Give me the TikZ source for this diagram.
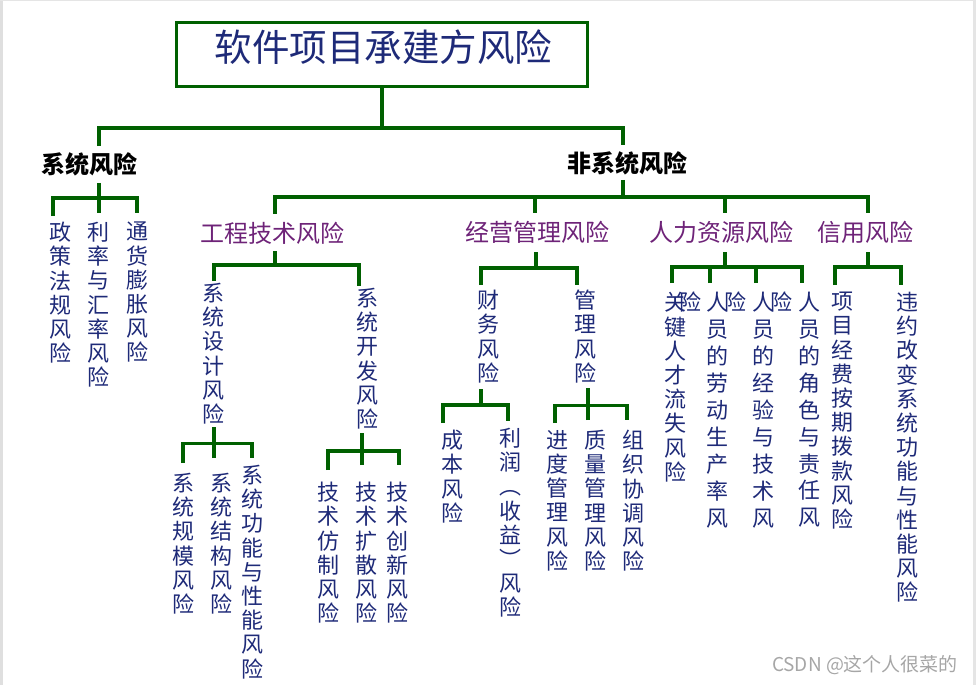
\documentclass[tikz,border=0pt]{standalone}
\usepackage{fontspec}
\newfontfamily\cjk{Noto Sans CJK SC}
\definecolor{navy}{RGB}{30,42,120}
\definecolor{purp}{RGB}{110,35,120}
\definecolor{lgreen}{RGB}{0,96,0}
\begin{document}
\begin{tikzpicture}[x=1pt,y=-1pt,
  conn/.style={draw=lgreen,line width=3.2pt},
  leaf/.style={inner sep=0pt,anchor=north,text=navy,align=center,font=\cjk\fontsize{22}{24.2}\selectfont},
  leafw/.style={leaf,font=\cjk\fontsize{22}{26.9}\selectfont},
  cat/.style={inner sep=0pt,text=purp,font=\cjk\fontsize{24}{28}\selectfont},
  top/.style={inner sep=0pt,text=black,font=\cjk\bfseries\fontsize{24}{28}\selectfont}]
\useasboundingbox (0,0) rectangle (976,685);
\fill[gray!25] (0,0) rectangle (3,685);
\fill[gray!20] (0,0) rectangle (976,1);
\fill[gray!20] (973,0) rectangle (976,685);

% root
\node[draw=lgreen,line width=3.6pt,minimum width=411pt,minimum height=64pt,inner sep=0pt] (root) at (382,54.5) {};
\node[inner sep=0pt,text=navy,font=\cjk\fontsize{37.5}{40}\selectfont] (title) at (383.5,47.5) {软件项目承建方风险};

% level 1
\node[top] (sys) at (89.5,164) {系统风险};
\node[top] (nonsys) at (627,163) {非系统风险};

% level 2
\node[cat] (eng) at (272.5,233) {工程技术风险};
\node[cat] (biz) at (537.5,232) {经营管理风险};
\node[cat] (hr) at (721.5,232) {人力资源风险};
\node[cat] (credit) at (865.5,232) {信用风险};

% leaves
\node[leaf] (l1) at (60,222) {政\\策\\法\\规\\风\\险};
\node[leaf] (l2) at (98,222) {利\\率\\与\\汇\\率\\风\\险};
\node[leaf] (l3) at (137,222) {通\\货\\膨\\胀\\风\\险};
\node[leaf] (l4) at (213,283) {系\\统\\设\\计\\风\\险};
\node[leaf] (l5) at (367,288) {系\\统\\开\\发\\风\\险};
\node[leaf] (l6) at (183,473) {系\\统\\规\\模\\风\\险};
\node[leaf] (l7) at (221,473) {系\\统\\结\\构\\风\\险};
\node[leaf] (l8) at (252,465) {系\\统\\功\\能\\与\\性\\能\\风\\险};
\node[leaf] (l9) at (328,482) {技\\术\\仿\\制\\风\\险};
\node[leaf] (l10) at (366,482) {技\\术\\扩\\散\\风\\险};
\node[leaf] (l11) at (397,482) {技\\术\\创\\新\\风\\险};
\node[leaf] (l12) at (488,290) {财\\务\\风\\险};
\node[leaf] (l13) at (585,290) {管\\理\\风\\险};
\node[leaf] (l14) at (452,430) {成\\本\\风\\险};
\node[leaf] (l15) at (510,428) {利\\润\\︵\\收\\益\\︶\\风\\险};
\node[leaf] (l16) at (557,430) {进\\度\\管\\理\\风\\险};
\node[leaf] (l17) at (595,430) {质\\量\\管\\理\\风\\险};
\node[leaf] (l18) at (633,430) {组\\织\\协\\调\\风\\险};
\node[leaf] (l19) at (675,292) {关\rlap{\kern-7pt 险}\\键\\人\\才\\流\\失\\风\\险};
\node[leafw] (l20) at (717,292) {人\rlap{\kern-4pt 险}\\员\\的\\劳\\动\\生\\产\\率\\风};
\node[leafw] (l21) at (763,292) {人\rlap{\kern-4pt 险}\\员\\的\\经\\验\\与\\技\\术\\风};
\node[leafw] (l22) at (809,292) {人\\员\\的\\角\\色\\与\\责\\任\\风};
\node[leaf] (l23) at (842,292) {项\\目\\经\\费\\按\\期\\拨\\款\\风\\险};
\node[leaf] (l24) at (907,292) {违\\约\\改\\变\\系\\统\\功\\能\\与\\性\\能\\风\\险};

% junctions
\coordinate (tj) at (382,128);
\coordinate (sj) at (99,198);
\coordinate (nj) at (623,197);
\coordinate (ej) at (275,265);
\coordinate (dj) at (214,443.5);
\coordinate (vj) at (362,451);
\coordinate (bj) at (536,268);
\coordinate (fj) at (481,405);
\coordinate (mj) at (588,405.5);
\coordinate (hj) at (725,267);
\coordinate (cj) at (868,267);

% connectors
\draw[conn] (root.south) -- (tj);
\draw[conn] ([xshift=9.5pt,yshift=6pt]sys.north) |- (tj) -| ([xshift=-4pt,yshift=6pt]nonsys.north);

\draw[conn] ([xshift=9.5pt,yshift=-7pt]sys.south) -- (sj);
\draw[conn] ([xshift=-7pt,yshift=6pt]l1.north) |- (sj) -| ([yshift=9pt]l3.north);
\draw[conn] (sj) -- ([xshift=1pt,yshift=9pt]l2.north);

\draw[conn] ([xshift=-4pt,yshift=-5pt]nonsys.south) -- (nj);
\draw[conn] ([xshift=2.5pt,yshift=8pt]eng.north) |- (nj) -| ([xshift=2.5pt,yshift=8pt]credit.north);
\draw[conn] ([xshift=-2.5pt,yshift=8pt]biz.north) |- (nj);
\draw[conn] ([xshift=3.5pt,yshift=8pt]hr.north) |- (nj);

\draw[conn] ([xshift=2.5pt,yshift=-7pt]eng.south) -- (ej);
\draw[conn] ([xshift=1pt,yshift=2pt]l4.north) |- (ej) -| ([xshift=-8pt,yshift=2pt]l5.north);

\draw[conn] ([xshift=1pt,yshift=-3pt]l4.south) -- (dj);
\draw[conn] ([yshift=10pt]l6.north) |- (dj) -| ([yshift=7pt]l8.north);
\draw[conn] ([xshift=-7pt,yshift=15pt]l7.north) |- (dj);

\draw[conn] ([xshift=-5pt,yshift=-4pt]l5.south) -- (vj);
\draw[conn] ([yshift=12pt]l9.north) |- (vj) -| ([xshift=2pt,yshift=17pt]l11.north);
\draw[conn] ([xshift=-4pt,yshift=17pt]l10.north) |- (vj);

\draw[conn] ([xshift=-1.5pt,yshift=-9pt]biz.south) -- (bj);
\draw[conn] ([xshift=-7pt,yshift=5pt]l12.north) |- (bj) -| ([xshift=-8pt,yshift=5pt]l13.north);

\draw[conn] ([xshift=-7pt,yshift=-6pt]l12.south) -- (fj);
\draw[conn] ([xshift=-9pt,yshift=7pt]l14.north) |- (fj) -| ([xshift=-2pt,yshift=7pt]l15.north);

\draw[conn] ([xshift=3pt,yshift=-5pt]l13.south) -- (mj);
\draw[conn] ([xshift=-2pt,yshift=7pt]l16.north) |- (mj) -| ([xshift=-6pt,yshift=10pt]l18.north);
\draw[conn] ([xshift=-7pt,yshift=10pt]l17.north) |- (mj);

\draw[conn] ([xshift=3.5pt,yshift=-9pt]hr.south) -- (hj);
\draw[conn] ([xshift=-3pt,yshift=9pt]l19.north) |- (hj) -| ([xshift=-7pt,yshift=9pt]l22.north);
\draw[conn] ([xshift=-7pt,yshift=9pt]l20.north) |- (hj);
\draw[conn] ([xshift=-7pt,yshift=9pt]l21.north) |- (hj);

\draw[conn] ([xshift=2.5pt,yshift=-9pt]credit.south) -- (cj);
\draw[conn] ([xshift=-7pt,yshift=7pt]l23.north) |- (cj) -| ([xshift=-6pt,yshift=7pt]l24.north);

% watermark
\node[inner sep=0pt,text=gray!70,font=\cjk\fontsize{19}{21}\selectfont] (wm) at (865,665) {CSDN @这个人很菜的};
\end{tikzpicture}
\end{document}
